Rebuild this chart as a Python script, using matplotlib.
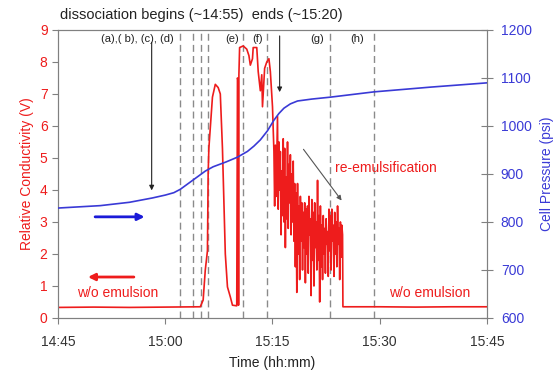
import matplotlib
matplotlib.use("Agg")
import matplotlib.pyplot as plt

plt.rcParams['font.family'] = ['Liberation Sans', 'DejaVu Sans']

# time in minutes after 14:45
xtick_labels = ["14:45", "15:00", "15:15", "15:30", "15:45"]
xtick_pos = [0, 15, 30, 45, 60]

# Cell pressure (psi)
p_time = [0, 5.9, 10.0, 13.2, 15.0, 16.2, 17.1, 18.3, 19.5, 20.6, 21.7, 23.5, 25.1,
          26.5, 27.4, 28.3, 29.3, 30.2, 30.9, 31.6, 32.5, 33.5, 35.5, 38.1, 44.2,
          52.2, 60.2]
p_val = [829, 834, 841, 850, 856, 861, 868, 881, 894, 906, 915, 925, 935,
         947, 958, 971, 990, 1012, 1026, 1037, 1046, 1052, 1056, 1060, 1071,
         1081, 1090]

# Relative conductivity (V): baseline, first peak, plateau
c_time_a = [0, 5.0, 10.0, 15.0, 19.9, 20.3, 20.6, 20.9, 21.0, 21.1, 21.6, 22.0, 22.4,
            22.7, 23.0, 23.1, 23.4, 23.7, 24.1, 24.4, 25.0, 25.1, 25.2, 25.25, 25.3,
            25.4, 25.9, 26.4, 26.7, 26.9, 27.2, 27.3, 27.8, 28.0, 28.3, 28.5, 28.6,
            28.9, 29.2, 29.5, 29.7, 30.0, 30.2]
c_val_a = [0.33, 0.34, 0.33, 0.34, 0.35, 0.56, 1.5, 2.1, 4.5, 5.3, 6.9, 7.3, 7.2,
           7.0, 5.3, 4.5, 2.0, 0.97, 0.66, 0.4, 0.38, 7.5, 7.4, 0.4, 7.6,
           8.45, 8.5, 8.4, 8.2, 7.9, 8.1, 8.45, 8.45, 7.7, 7.1, 7.6, 6.6,
           7.8, 8.0, 8.1, 7.7, 6.6, 5.2]
# re-emulsification (noisy) part, then baseline
c_time_b = [30.3, 30.4, 30.5, 30.6, 30.7, 30.8, 30.9, 31.0, 31.1, 31.2, 31.3, 31.4,
            31.5, 31.6, 31.7, 31.8, 31.9, 32.0, 32.1, 32.2, 32.3, 32.4, 32.5, 32.6,
            32.7, 32.8, 32.9, 33.0, 33.1, 33.2, 33.3, 33.4, 33.5, 33.6, 33.7, 33.8,
            33.9, 34.0, 34.1, 34.2, 34.3, 34.4, 34.5, 34.6, 34.7, 34.8, 34.9, 35.0,
            35.1, 35.2, 35.3, 35.4, 35.5, 35.6, 35.7, 35.8, 35.9, 36.0, 36.1, 36.2,
            36.3, 36.4, 36.5, 36.6, 36.7, 36.8, 36.9, 37.0, 37.1, 37.2, 37.3, 37.4,
            37.5, 37.6, 37.7, 37.8, 37.9, 38.0, 38.1, 38.2, 38.3, 38.4, 38.5, 38.6,
            38.7, 38.8, 38.9, 39.0, 39.1, 39.2, 39.3, 39.4, 39.5, 39.6, 39.7, 39.8,
            39.85, 45.0, 50.0, 55.0, 60.0]
c_val_b = [3.5, 5.4, 3.8, 5.0, 6.3, 3.4, 5.5, 4.0, 5.2, 2.6, 4.6, 3.2,
           5.6, 3.0, 5.3, 2.2, 4.4, 3.1, 5.5, 2.8, 4.8, 3.6, 5.1, 2.6,
           4.5, 3.0, 4.9, 2.4, 4.2, 1.6, 3.9, 0.8, 4.2, 2.0, 3.5, 1.2,
           3.8, 2.4, 3.6, 1.5, 3.3, 2.2, 3.6, 1.1, 3.4, 2.0, 3.5, 1.4,
           3.8, 2.6, 3.1, 0.7, 3.7, 1.8, 3.3, 1.0, 3.6, 2.2, 3.0, 1.5,
           4.3, 1.8, 3.2, 0.5, 3.5, 1.6, 2.9, 1.2, 3.2, 2.0, 2.8, 1.4,
           3.1, 2.3, 2.7, 1.3, 3.4, 2.1, 3.2, 1.5, 3.4, 2.4, 2.9, 1.3,
           3.3, 2.0, 3.0, 1.6, 3.5, 2.3, 2.8, 1.2, 3.0, 1.9, 2.9, 2.6,
           0.35, 0.35, 0.34, 0.35, 0.35]

# vertical dashed sampling marks (minutes after 14:45)
mark_times = [17.0, 18.9, 20.0, 21.0, 25.9, 29.2, 38.0, 44.2]
mark_labels = [("(a),( b), (c), (d)", 11.1), ("(e)", 24.4), ("(f)", 27.9),
               ("(g)", 36.2), ("(h)", 41.8)]

RED = "#ee1c1c"
BLUE = "#3a3ad6"
GRAY = "#808080"

fig = plt.figure(figsize=(5.6, 3.79), dpi=100)
ax = fig.add_axes([0.1036, 0.161, 0.7660, 0.760])
ax2 = ax.twinx()

for t in mark_times:
    ax.axvline(t, color="#8a8a8a", lw=1.0, ls=(0, (5, 3)), zorder=1)

ax.plot(c_time_a + c_time_b, c_val_a + c_val_b, color=RED, lw=1.2, zorder=3)
ax2.plot(p_time, p_val, color=BLUE, lw=1.2, zorder=3)

ax.set_xlim(0, 60)
ax.set_ylim(0, 9)
ax2.set_ylim(600, 1200)
ax.set_xticks(xtick_pos)
ax.set_xticklabels(xtick_labels)
ax.set_yticks(range(0, 10))
ax2.set_yticks(range(600, 1201, 100))

for a in (ax, ax2):
    for s in a.spines.values():
        s.set_color(GRAY)
ax.tick_params(axis='x', colors="#333333", direction='out', length=4, color=GRAY,
               labelsize=10, pad=8)
ax.tick_params(axis='y', colors=RED, direction='out', length=4, color=GRAY,
               labelsize=10)
ax2.tick_params(axis='y', colors=BLUE, direction='inout', length=8, color=GRAY,
                labelsize=10, pad=6)

ax.set_xlabel("Time (hh:mm)", fontsize=10, color="#222222", labelpad=5)
ax.set_ylabel("Relative Conductivity (V)", fontsize=10, color=RED, labelpad=4)
ax2.set_ylabel("Cell Pressure (psi)", fontsize=10, color=BLUE, labelpad=6)

fig.text(0.107, 0.960, "dissociation begins (~14:55)  ends (~15:20)",
         fontsize=10.5, color="#222222", ha="left", va="center")

for lab, t in mark_labels:
    ax.text(t, 8.73, lab, fontsize=8, color="#222222", ha="center", va="center")

arrow_k = dict(arrowstyle="-|>", color="#222222", lw=0.8, mutation_scale=7)
ax.annotate("", xy=(13.1, 3.9), xytext=(13.1, 8.7), arrowprops=arrow_k)
ax.annotate("", xy=(31.0, 6.97), xytext=(31.0, 8.9), arrowprops=arrow_k)
ax.annotate("", xy=(39.9, 3.6), xytext=(34.1, 5.34),
            arrowprops=dict(arrowstyle="-|>", color="#555555", lw=0.8, mutation_scale=7))

ax.annotate("", xy=(12.5, 3.16), xytext=(4.8, 3.16),
            arrowprops=dict(arrowstyle="-|>", color="#1a1ad8", lw=2.0, mutation_scale=10))
ax.annotate("", xy=(3.8, 1.28), xytext=(11.0, 1.28),
            arrowprops=dict(arrowstyle="-|>", color=RED, lw=2.0, mutation_scale=10))

ax.text(8.3, 0.78, "w/o emulsion", fontsize=10, color=RED, ha="center", va="center")
ax.text(52.0, 0.78, "w/o emulsion", fontsize=10, color=RED, ha="center", va="center")
ax.text(45.9, 4.69, "re-emulsification", fontsize=10, color=RED, ha="center", va="center")

fig.savefig("out.png", dpi=100)
